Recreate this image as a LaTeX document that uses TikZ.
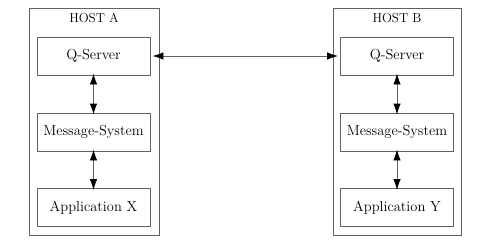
\documentclass[tikz,border=0pt]{standalone}
\usetikzlibrary{arrows.meta}
\begin{document}
\begin{tikzpicture}[x=1pt,y=-1pt,
  hostbox/.style={draw=black!62,line width=0.9pt},
  compbox/.style={draw=black!62,line width=0.9pt,minimum width=113pt,minimum height=38pt,inner sep=0pt,font=\fontsize{14.5}{16}\selectfont},
  hostlabel/.style={font=\fontsize{13}{15}\selectfont},
  link/.style={draw=black!62,line width=0.9pt,{Latex[length=11pt,width=7.5pt,black]}-{Latex[length=11pt,width=7.5pt,black]}}]
\useasboundingbox (0,0) rectangle (487,250);
\draw[hostbox] (29,8) rectangle (159,235);
\draw[hostbox] (333,8) rectangle (461,235);
\node[hostlabel] (la) at (94,18) {HOST A};
\node[hostlabel] (lb) at (397,18) {HOST B};
\node[compbox] (qa) at (93.5,56) {Q-Server};
\node[compbox] (ma) at (93.5,132) {Message-System};
\node[compbox] (aa) at (93.5,207.5) {Application X};
\node[compbox] (qb) at (397,56) {Q-Server};
\node[compbox] (mb) at (397,132) {Message-System};
\node[compbox] (ab) at (397,207.5) {Application Y};
\draw[link] ([xshift=2pt]qa.east) -- ([xshift=-2pt]qb.west);
\draw[link] ([yshift=2pt]qa.south) -- ([yshift=-2pt]ma.north);
\draw[link] ([yshift=2pt]ma.south) -- ([yshift=-2pt]aa.north);
\draw[link] ([yshift=2pt]qb.south) -- ([yshift=-2pt]mb.north);
\draw[link] ([yshift=2pt]mb.south) -- ([yshift=-2pt]ab.north);
\end{tikzpicture}
\end{document}
